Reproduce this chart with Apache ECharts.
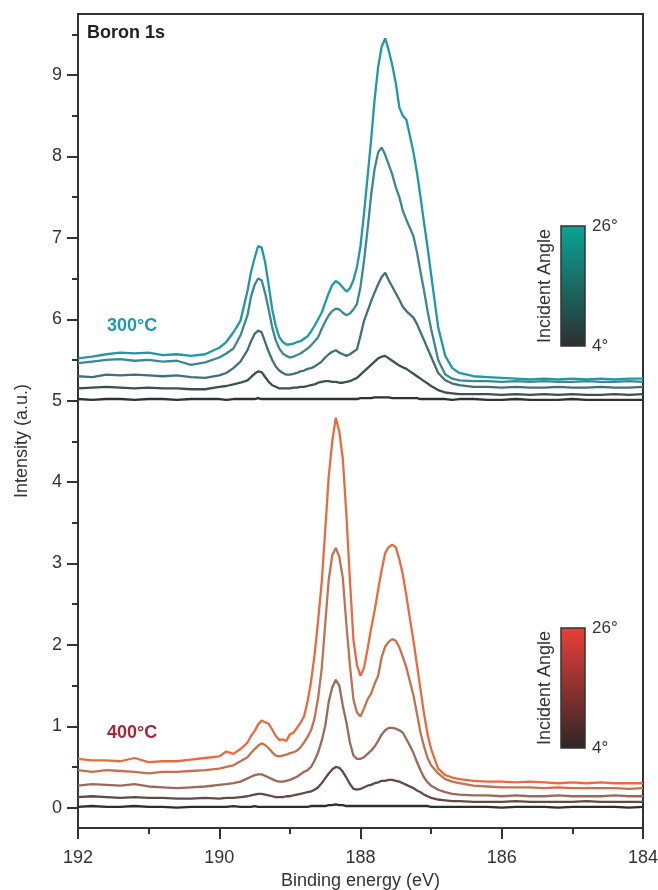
<!DOCTYPE html>
<html>
<head>
<meta charset="utf-8">
<script src="https://cdn.jsdelivr.net/npm/echarts@6.0.0/dist/echarts.min.js"></script>
<style>html,body{margin:0;padding:0;background:#fff}#c{width:658px;height:890px}</style>
</head>
<body>
<div id="c"></div>
<script>
// Binding energy grid (eV)
const energy = [
  192.0, 191.8, 191.6, 191.4, 191.2, 191.0, 190.8, 190.6, 190.4, 190.2, 190.0, 189.9, 189.8, 189.7,
  189.6, 189.55, 189.5, 189.45, 189.4, 189.35, 189.3, 189.25, 189.2, 189.15, 189.1, 189.05, 189.0,
  188.95, 188.9, 188.85, 188.8, 188.75, 188.7, 188.65, 188.6, 188.55, 188.5, 188.45, 188.4,
  188.35, 188.3, 188.25, 188.2, 188.15, 188.1, 188.05, 188.0, 187.95, 187.9, 187.85, 187.8,
  187.75, 187.7, 187.65, 187.6, 187.55, 187.5, 187.45, 187.4, 187.35, 187.3, 187.25, 187.2, 187.15, 187.1, 187.05, 187.0,
  186.9, 186.8, 186.7, 186.6, 186.4, 186.2, 186.0, 185.8, 185.6, 185.4, 185.2, 185.0, 184.8, 184.6, 184.4, 184.2, 184.0
];

// 300 °C spectra (offset), incident angle 26° -> 4°
const t300_a = [
  5.52, 5.54, 5.57, 5.59, 5.58, 5.59, 5.56, 5.57, 5.55, 5.57, 5.65, 5.72, 5.84, 5.98,
  6.35, 6.58, 6.75, 6.90, 6.88, 6.70, 6.42, 6.12, 5.92, 5.78, 5.72, 5.69, 5.69,
  5.70, 5.72, 5.73, 5.76, 5.79, 5.85, 5.92, 6.00, 6.08, 6.20, 6.32, 6.42,
  6.47, 6.44, 6.39, 6.34, 6.38, 6.48, 6.64, 6.90, 7.30, 7.75, 8.20, 8.70,
  9.10, 9.35, 9.45, 9.30, 9.12, 8.90, 8.60, 8.50, 8.45, 8.25, 8.05, 7.80, 7.50, 7.18, 6.88, 6.55,
  5.90, 5.55, 5.40, 5.34, 5.30, 5.29, 5.28, 5.27, 5.26, 5.27, 5.26, 5.27, 5.26, 5.27, 5.26, 5.27, 5.27
];
const t300_b = [
  5.46, 5.48, 5.50, 5.51, 5.49, 5.50, 5.48, 5.49, 5.44, 5.47, 5.53, 5.58, 5.64, 5.80,
  6.05, 6.28, 6.42, 6.50, 6.48, 6.32, 6.12, 5.90, 5.74, 5.64, 5.58, 5.55, 5.53,
  5.54, 5.56, 5.58, 5.61, 5.64, 5.68, 5.73, 5.78, 5.88, 5.97, 6.05, 6.10,
  6.13, 6.12, 6.08, 6.05, 6.07, 6.12, 6.19, 6.40, 6.72, 7.10, 7.52, 7.85,
  8.05, 8.11, 8.02, 7.90, 7.78, 7.62, 7.50, 7.33, 7.22, 7.12, 7.02, 6.82, 6.58, 6.35, 6.10, 5.88,
  5.50, 5.32, 5.27, 5.25, 5.24, 5.24, 5.23, 5.24, 5.23, 5.24, 5.23, 5.23, 5.24, 5.23, 5.23, 5.24, 5.23
];
const t300_c = [
  5.30, 5.29, 5.32, 5.31, 5.32, 5.31, 5.30, 5.31, 5.29, 5.28, 5.31, 5.34, 5.40, 5.48,
  5.62, 5.73, 5.82, 5.86, 5.84, 5.72, 5.60, 5.50, 5.42, 5.37, 5.34, 5.32, 5.32,
  5.33, 5.34, 5.36, 5.37, 5.39, 5.40, 5.42, 5.45, 5.48, 5.53, 5.57, 5.60,
  5.62, 5.59, 5.57, 5.55, 5.57, 5.60, 5.63, 5.80, 5.98, 6.10, 6.22, 6.33,
  6.43, 6.52, 6.57, 6.48, 6.40, 6.32, 6.24, 6.15, 6.10, 6.06, 6.02, 5.94, 5.84, 5.74, 5.64, 5.54,
  5.34, 5.25, 5.21, 5.19, 5.17, 5.17, 5.16, 5.17, 5.16, 5.16, 5.17, 5.16, 5.16, 5.17, 5.16, 5.16, 5.17
];
const t300_d = [
  5.15, 5.16, 5.17, 5.16, 5.15, 5.16, 5.15, 5.15, 5.14, 5.14, 5.17, 5.18, 5.20, 5.22,
  5.25, 5.29, 5.33, 5.36, 5.35, 5.29, 5.23, 5.19, 5.17, 5.15, 5.15, 5.15, 5.15,
  5.16, 5.16, 5.17, 5.17, 5.18, 5.19, 5.20, 5.22, 5.23, 5.24, 5.24, 5.23,
  5.23, 5.22, 5.22, 5.23, 5.24, 5.26, 5.28, 5.32, 5.36, 5.40, 5.44, 5.48,
  5.52, 5.54, 5.55, 5.52, 5.49, 5.46, 5.43, 5.41, 5.39, 5.36, 5.33, 5.30, 5.27, 5.24, 5.21, 5.18,
  5.13, 5.10, 5.09, 5.08, 5.08, 5.08, 5.07, 5.08, 5.07, 5.08, 5.07, 5.08, 5.07, 5.07, 5.08, 5.07, 5.08
];
const t300_e = [
  5.02, 5.01, 5.02, 5.02, 5.01, 5.02, 5.02, 5.01, 5.02, 5.02, 5.02, 5.01, 5.02, 5.02,
  5.02, 5.02, 5.02, 5.03, 5.02, 5.02, 5.02, 5.02, 5.02, 5.02, 5.02, 5.02, 5.02,
  5.02, 5.02, 5.02, 5.02, 5.02, 5.02, 5.02, 5.02, 5.02, 5.02, 5.02, 5.02,
  5.02, 5.02, 5.02, 5.02, 5.02, 5.02, 5.02, 5.03, 5.03, 5.03, 5.03, 5.04,
  5.04, 5.04, 5.04, 5.04, 5.03, 5.03, 5.03, 5.03, 5.03, 5.03, 5.03, 5.03, 5.02, 5.02, 5.02, 5.02,
  5.02, 5.02, 5.01, 5.02, 5.02, 5.01, 5.01, 5.02, 5.01, 5.01, 5.01, 5.02, 5.01, 5.01, 5.01, 5.01, 5.01
];

// 400 °C spectra, incident angle 26° -> 4°
const t400_a = [
  0.60, 0.58, 0.58, 0.57, 0.61, 0.56, 0.57, 0.57, 0.59, 0.61, 0.63, 0.69, 0.66, 0.72,
  0.80, 0.88, 0.94, 1.02, 1.07, 1.05, 1.03, 0.96, 0.88, 0.83, 0.84, 0.82, 0.90,
  0.92, 0.98, 1.04, 1.12, 1.30, 1.55, 1.88, 2.30, 2.76, 3.40, 4.07, 4.50,
  4.79, 4.62, 4.28, 3.60, 2.80, 2.06, 1.75, 1.62, 1.72, 1.95, 2.20, 2.42,
  2.68, 2.92, 3.13, 3.20, 3.23, 3.20, 3.05, 2.86, 2.60, 2.32, 2.05, 1.75, 1.45, 1.15, 0.90, 0.72,
  0.48, 0.40, 0.37, 0.35, 0.33, 0.32, 0.32, 0.31, 0.32, 0.31, 0.30, 0.31, 0.30, 0.31, 0.30, 0.30, 0.30
];
const t400_b = [
  0.46, 0.44, 0.46, 0.45, 0.44, 0.42, 0.44, 0.44, 0.45, 0.46, 0.48, 0.50, 0.52, 0.57,
  0.62, 0.67, 0.72, 0.76, 0.79, 0.77, 0.73, 0.68, 0.64, 0.63, 0.64, 0.65, 0.67,
  0.68, 0.70, 0.74, 0.80, 0.87, 0.95, 1.10, 1.35, 1.70, 2.25, 2.80, 3.10,
  3.19, 3.08, 2.82, 2.25, 1.75, 1.33, 1.17, 1.12, 1.22, 1.33, 1.40, 1.52,
  1.62, 1.85, 1.98, 2.04, 2.07, 2.05, 1.97, 1.85, 1.72, 1.55, 1.38, 1.15, 0.92, 0.75, 0.61, 0.52,
  0.42, 0.35, 0.32, 0.30, 0.27, 0.26, 0.25, 0.25, 0.25, 0.24, 0.25, 0.24, 0.24, 0.24, 0.24, 0.23, 0.24
];
const t400_c = [
  0.27, 0.29, 0.28, 0.27, 0.29, 0.26, 0.25, 0.24, 0.25, 0.26, 0.28, 0.29, 0.30, 0.32,
  0.36, 0.38, 0.40, 0.41, 0.41, 0.39, 0.37, 0.35, 0.33, 0.32, 0.32, 0.33, 0.34,
  0.36, 0.38, 0.41, 0.44, 0.46, 0.50, 0.58, 0.68, 0.82, 1.00, 1.30, 1.48,
  1.57, 1.50, 1.25, 1.05, 0.80, 0.64, 0.60, 0.60, 0.62, 0.66, 0.70, 0.75,
  0.82, 0.90, 0.95, 0.98, 0.98, 0.97, 0.95, 0.92, 0.84, 0.76, 0.67, 0.56, 0.46, 0.37, 0.31, 0.27,
  0.22, 0.19, 0.17, 0.16, 0.15, 0.15, 0.14, 0.15, 0.14, 0.14, 0.15, 0.14, 0.14, 0.14, 0.15, 0.14, 0.14
];
const t400_d = [
  0.13, 0.14, 0.13, 0.12, 0.13, 0.12, 0.12, 0.11, 0.11, 0.12, 0.11, 0.12, 0.12, 0.13,
  0.14, 0.15, 0.16, 0.17, 0.17, 0.16, 0.15, 0.14, 0.13, 0.13, 0.13, 0.14, 0.14,
  0.15, 0.16, 0.17, 0.18, 0.19, 0.20, 0.22, 0.25, 0.30, 0.36, 0.42, 0.47,
  0.50, 0.49, 0.44, 0.37, 0.29, 0.23, 0.22, 0.23, 0.25, 0.27, 0.28, 0.30,
  0.31, 0.33, 0.33, 0.34, 0.34, 0.33, 0.32, 0.30, 0.28, 0.26, 0.24, 0.21, 0.19, 0.16, 0.14, 0.12,
  0.10, 0.09, 0.08, 0.08, 0.07, 0.07, 0.07, 0.08, 0.07, 0.07, 0.07, 0.07, 0.08, 0.07, 0.07, 0.07, 0.07
];
const t400_e = [
  0.01, 0.02, 0.01, 0.01, 0.02, 0.01, 0.01, 0.00, 0.01, 0.01, 0.01, 0.01, 0.02, 0.01,
  0.01, 0.01, 0.02, 0.01, 0.01, 0.01, 0.01, 0.01, 0.01, 0.01, 0.01, 0.01, 0.01,
  0.01, 0.01, 0.01, 0.01, 0.01, 0.02, 0.02, 0.02, 0.02, 0.02, 0.03, 0.03,
  0.04, 0.03, 0.03, 0.02, 0.02, 0.02, 0.02, 0.02, 0.02, 0.02, 0.02, 0.02,
  0.02, 0.02, 0.02, 0.02, 0.02, 0.02, 0.02, 0.02, 0.02, 0.02, 0.02, 0.02, 0.02, 0.02, 0.02, 0.01,
  0.01, 0.01, 0.01, 0.01, 0.01, 0.01, 0.00, 0.01, 0.01, 0.01, 0.00, 0.01, 0.01, 0.01, 0.01, 0.00, 0.01
];

const yTicks = [0, 1, 2, 3, 4, 5, 6, 7, 8, 9];
const yMinorTicks = [0.5, 1.5, 2.5, 3.5, 4.5, 5.5, 6.5, 7.5, 8.5, 9.5];

const spectra300 = [t300_e, t300_d, t300_c, t300_b, t300_a];
const colors300 = ['#2f3233', '#3c4f53', '#42707a', '#3d8792', '#1f98a8'];
const spectra400 = [t400_e, t400_d, t400_c, t400_b, t400_a];
const colors400 = ['#2f2d2d', '#614b46', '#9a6a5a', '#c2724f', '#ea6a40'];

const FONT = '"Liberation Sans", Arial, Helvetica, sans-serif';
const series = [];
function addGroup(arrs, cols) {
  arrs.forEach((vals, k) => {
    series.push({
      type: 'line', symbol: 'none', silent: true, animation: false,
      data: energy.map((e, i) => [e, vals[i]]),
      lineStyle: { color: cols[k], width: 2.3 },
      xAxisIndex: 0, yAxisIndex: 0
    });
  });
}
addGroup(spectra300, colors300);
addGroup(spectra400, colors400);

const chart = echarts.init(document.getElementById('c'), null, { renderer: 'canvas' });
const axisColor = '#333';
chart.setOption({
  animation: false,
  backgroundColor: '#fff',
  title: {
    text: 'Boron 1s', left: 87, top: 24, padding: 0,
    textStyle: { fontFamily: FONT, fontSize: 18, fontWeight: 'bold', color: '#222' }
  },
  grid: { left: 78, right: 15, top: 14, bottom: 62, containLabel: false, outerBoundsMode: 'none', show: true, borderColor: axisColor, borderWidth: 2, backgroundColor: 'transparent' },
  xAxis: {
    type: 'value', min: 184, max: 192, interval: 2, inverse: true,
    name: 'Binding energy (eV)', nameLocation: 'middle', nameGap: 42,
    nameTextStyle: { fontFamily: FONT, fontSize: 18, color: axisColor },
    axisLine: { show: true, onZero: false, lineStyle: { color: axisColor, width: 2 } },
    axisTick: { show: true, length: 11, lineStyle: { color: axisColor, width: 2 } },
    minorTick: { show: true, splitNumber: 2, length: 6, lineStyle: { color: axisColor, width: 2 } },
    axisLabel: { fontFamily: FONT, fontSize: 18, color: axisColor, margin: 21 },
    splitLine: { show: false }
  },
  yAxis: [{
    type: 'value', min: -0.25, max: 9.75,
    name: 'Intensity (a.u.)', nameLocation: 'middle', nameGap: 47, nameRotate: 90,
    nameTextStyle: { fontFamily: FONT, fontSize: 18, color: axisColor, padding: [0, 40, 0, 0] },
    axisLine: { show: true, onZero: false, lineStyle: { color: axisColor, width: 2 } },
    axisTick: { show: true, length: 11, customValues: yTicks, lineStyle: { color: axisColor, width: 2 } },
    axisLabel: { fontFamily: FONT, fontSize: 18, color: axisColor, margin: 16, customValues: yTicks },
    splitLine: { show: false }
  }, {
    type: 'value', min: -0.25, max: 9.75, position: 'left',
    axisLine: { show: false, onZero: false },
    axisTick: { show: true, length: 6, customValues: yMinorTicks, lineStyle: { color: axisColor, width: 2 } },
    axisLabel: { show: false },
    splitLine: { show: false }
  }],
  series: series,
  graphic: [
    { type: 'text', left: 107, top: 317, style: { text: '300°C', font: 'bold 18px ' + FONT, fill: '#1f9aa8' } },
    { type: 'text', left: 107, top: 724, style: { text: '400°C', font: 'bold 18px ' + FONT, fill: '#a8243a' } },
    // teal colour bar
    { type: 'rect', shape: { x: 561, y: 226, width: 24, height: 120 },
      style: { fill: new echarts.graphic.LinearGradient(0, 0, 0, 1, [{ offset: 0, color: '#08a595' }, { offset: 1, color: '#2c2f30' }]), stroke: '#333', lineWidth: 1.5 } },
    { type: 'text', x: 592, y: 226, style: { text: '26°', font: '17px ' + FONT, fill: '#333', verticalAlign: 'middle' } },
    { type: 'text', x: 592, y: 346, style: { text: '4°', font: '17px ' + FONT, fill: '#333', verticalAlign: 'middle' } },
    { type: 'text', x: 545, y: 286, rotation: Math.PI / 2, style: { text: 'Incident Angle', font: '18px ' + FONT, fill: '#333', align: 'center', verticalAlign: 'middle' } },
    // red colour bar
    { type: 'rect', shape: { x: 561, y: 628, width: 24, height: 120 },
      style: { fill: new echarts.graphic.LinearGradient(0, 0, 0, 1, [{ offset: 0, color: '#ea3f38' }, { offset: 1, color: '#2e2526' }]), stroke: '#333', lineWidth: 1.5 } },
    { type: 'text', x: 592, y: 628, style: { text: '26°', font: '17px ' + FONT, fill: '#333', verticalAlign: 'middle' } },
    { type: 'text', x: 592, y: 748, style: { text: '4°', font: '17px ' + FONT, fill: '#333', verticalAlign: 'middle' } },
    { type: 'text', x: 545, y: 688, rotation: Math.PI / 2, style: { text: 'Incident Angle', font: '18px ' + FONT, fill: '#333', align: 'center', verticalAlign: 'middle' } }
  ]
});
</script>
</body>
</html>
